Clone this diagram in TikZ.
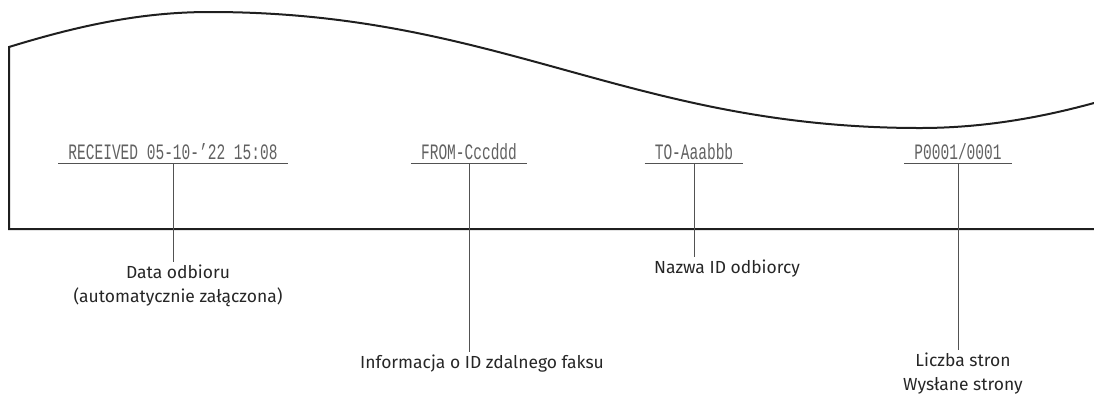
\documentclass[tikz,border=0pt]{standalone}
\usepackage{fontspec}
\setmainfont{Fira Sans}
\newfontfamily\monofnt[FakeStretch=0.66]{Liberation Mono}
\begin{document}
\begin{tikzpicture}[x=0.75pt,y=-0.75pt,
  paper/.style={line width=1.5pt, draw=black!88},
  uline/.style={line width=0.75pt, draw=black!68},
  monotxt/.style={font=\monofnt\fontsize{16.5}{18}\selectfont, text=black!62, anchor=base, text depth=0pt, inner xsep=7.5pt, inner ysep=3pt},
  lbl/.style={font=\fontsize{13.1}{18}\selectfont, text=black!85, align=center, anchor=north, inner sep=2pt}]
\useasboundingbox (0,0) rectangle (1094,401);
% paper outline
\draw[paper] (1094,229) -- (9,229) -- (9,47)
  .. controls (90,22) and (150,12) .. (210,12)
  .. controls (500,12) and (630,128) .. (920,128)
  .. controls (990,128) and (1050,115) .. (1094,103);
% header texts
\node[monotxt] (recv) at (173,159) {RECEIVED 05-10-’22 15:08};
\node[monotxt] (from) at (469,159) {FROM-Cccddd};
\node[monotxt] (to) at (694,159) {TO-Aaabbb};
\node[monotxt] (page) at (958,159) {P0001/0001};
\foreach \n in {recv,from,to,page}
  \draw[uline] (\n.south west) -- (\n.south east);
% labels
\node[lbl] (l1) at (178,262) {Data odbioru\\(automatycznie załączona)};
\node[lbl] (l2) at (482,352) {Informacja o ID zdalnego faksu};
\node[lbl] (l3) at (727,257) {Nazwa ID odbiorcy};
\node[lbl] (l4) at (963,350) {Liczba stron\\Wysłane strony};
% leaders
\draw[uline] (recv.south) -- (recv.south |- l1.north);
\draw[uline] (from.south) -- (from.south |- l2.north);
\draw[uline] (to.south) -- (to.south |- l3.north);
\draw[uline] (page.south) -- (page.south |- l4.north);
\end{tikzpicture}
\end{document}
